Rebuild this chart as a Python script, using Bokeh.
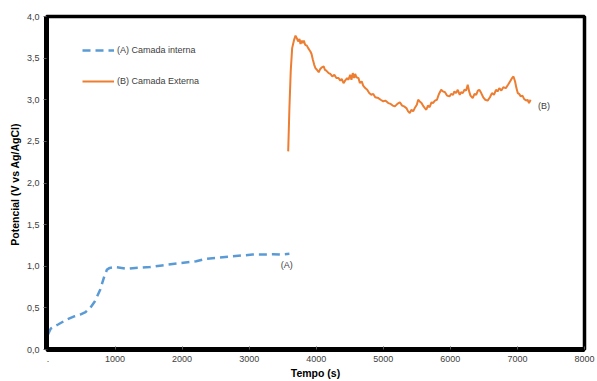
from bokeh.plotting import figure
from bokeh.models import FixedTicker, Legend, LegendItem, Label, Range1d
from bokeh.embed import file_html
from bokeh.resources import INLINE

# Series A: Camada interna
a_t = [0, 40, 150, 280, 400, 480, 560, 630, 700, 780, 840, 880, 920, 1000, 1100, 1180,
       1300, 1520, 1700, 1990, 2210, 2360, 2500, 2750, 3050, 3200, 3350, 3480, 3600]
a_v = [0.18, 0.25, 0.30, 0.36, 0.40, 0.42, 0.45, 0.50, 0.58, 0.72, 0.88, 0.96, 0.98, 0.99,
       0.98, 0.97, 0.98, 0.99, 1.01, 1.04, 1.06, 1.09, 1.10, 1.12, 1.14, 1.14, 1.145, 1.14, 1.15]

# Series B: Camada Externa
b_t = [3582, 3600, 3620, 3641, 3670, 3691, 3710, 3730, 3750, 3765, 3785, 3800, 3815, 3835,
       3860, 3880, 3913, 3930, 3950, 3970, 3988, 4010, 4037, 4060, 4085, 4111, 4130, 4150,
       4185, 4210, 4240, 4270, 4300, 4333, 4360, 4380, 4407, 4430, 4460, 4480, 4506, 4525,
       4545, 4565, 4580, 4600, 4630, 4650, 4678, 4700, 4730, 4760, 4790, 4820, 4850, 4880,
       4926, 4960, 5000, 5030, 5074, 5110, 5140, 5173, 5210, 5247, 5280, 5310, 5344, 5370,
       5395, 5420, 5445, 5469, 5500, 5520, 5543, 5570, 5600, 5620, 5641, 5665, 5690, 5720,
       5741, 5770, 5800, 5830, 5863, 5890, 5920, 5950, 5987, 6010, 6040, 6060, 6085, 6110,
       6140, 6160, 6185, 6210, 6235, 6259, 6280, 6300, 6333, 6360, 6385, 6410, 6432, 6460,
       6490, 6520, 6556, 6590, 6620, 6650, 6680, 6704, 6730, 6760, 6790, 6827, 6860, 6890,
       6920, 6941, 6965, 6985, 7005, 7025, 7050, 7075, 7099, 7130, 7150, 7173, 7196]
b_v = [2.38, 2.90, 3.35, 3.62, 3.72, 3.77, 3.74, 3.70, 3.73, 3.67, 3.71, 3.68, 3.71, 3.66,
       3.65, 3.62, 3.58, 3.55, 3.48, 3.42, 3.38, 3.36, 3.33, 3.37, 3.39, 3.40, 3.36, 3.35,
       3.32, 3.31, 3.28, 3.30, 3.26, 3.26, 3.23, 3.25, 3.20, 3.23, 3.26, 3.24, 3.30, 3.24,
       3.32, 3.26, 3.31, 3.27, 3.26, 3.20, 3.22, 3.17, 3.14, 3.12, 3.08, 3.06, 3.07, 3.03,
       3.02, 3.00, 2.98, 2.99, 2.96, 2.95, 2.93, 2.92, 2.95, 2.97, 2.93, 2.92, 2.90, 2.86,
       2.84, 2.88, 2.86, 2.90, 2.94, 3.00, 2.98, 2.96, 2.92, 2.90, 2.88, 2.93, 2.91, 2.97,
       2.96, 2.99, 3.00, 3.07, 3.12, 3.10, 3.09, 3.05, 3.04, 3.07, 3.06, 3.10, 3.08, 3.12,
       3.06, 3.09, 3.08, 3.12, 3.11, 3.18, 3.10, 3.05, 3.02, 3.07, 3.06, 3.11, 3.12, 3.08,
       3.03, 3.00, 2.99, 3.03, 3.08, 3.06, 3.12, 3.10, 3.14, 3.11, 3.15, 3.14, 3.18, 3.22,
       3.26, 3.28, 3.22, 3.14, 3.08, 3.07, 3.04, 3.05, 3.01, 2.99, 3.00, 2.96, 3.00]

x_ticks = [0, 1000, 2000, 3000, 4000, 5000, 6000, 7000, 8000]
x_tick_labels = [".", "1000", "2000", "3000", "4000", "5000", "6000", "7000", "8000"]
y_ticks = [0.0, 0.5, 1.0, 1.5, 2.0, 2.5, 3.0, 3.5, 4.0]
y_tick_labels = ["0,0", "0,5", "1,0", "1,5", "2,0", "2,5", "3,0", "3,5", "4,0"]

legend_a = "(A) Camada interna"
legend_b = "(B) Camada Externa"
x_title = "Tempo (s)"
y_title = "Potencial  (V vs Ag/AgCl)"

blue = "#5B9BD5"
orange = "#ED7D31"
font = "Liberation Sans"
tick_col = "#404040"

p = figure(width=597, height=381, output_backend="svg", toolbar_location=None,
           x_range=Range1d(-22, 8000), y_range=Range1d(0, 4.0),
           min_border_left=46, min_border_top=16, min_border_right=13, min_border_bottom=31)
p.background_fill_color = "white"
p.border_fill_color = "white"
p.outline_line_color = "black"
p.outline_line_width = 3.5
p.xgrid.visible = False
p.ygrid.visible = False

ra = p.line(a_t, a_v, line_color=blue, line_width=2.5, line_dash="8 5")
rb = p.line(b_t, b_v, line_color=orange, line_width=2)

for ax in (p.xaxis[0], p.yaxis[0]):
    ax.axis_line_color = "black"
    ax.axis_line_width = 5
    ax.minor_tick_line_color = None
    ax.major_tick_line_color = "#595959"
    ax.major_label_text_font = font
    ax.major_label_text_font_size = "9px"
    ax.major_label_text_color = tick_col
    ax.axis_label_text_font = font
    ax.axis_label_text_font_style = "bold"
    ax.axis_label_text_font_size = "10.5px"
    ax.axis_label_text_color = "black"

p.xaxis.ticker = FixedTicker(ticks=x_ticks)
p.xaxis.major_label_overrides = dict(zip(x_ticks, x_tick_labels))
p.xaxis.major_tick_in = 3
p.xaxis.major_tick_out = 0
p.xaxis.major_label_standoff = 6
p.xaxis.axis_label = x_title
p.xaxis.axis_label_standoff = 2

p.yaxis.ticker = FixedTicker(ticks=y_ticks)
p.yaxis.major_label_overrides = dict(zip(y_ticks, y_tick_labels))
p.yaxis.major_tick_in = 0
p.yaxis.major_tick_out = 3
p.yaxis.major_label_standoff = 4
p.yaxis.axis_label = y_title
p.yaxis.axis_label_standoff = 3

legend = Legend(items=[LegendItem(label=legend_a, renderers=[ra]),
                       LegendItem(label=legend_b, renderers=[rb])],
                location=(36, 262), orientation="vertical")
legend.background_fill_alpha = 0
legend.border_line_color = None
legend.padding = 0
legend.margin = 0
legend.spacing = 19
legend.glyph_width = 32
legend.glyph_height = 12
legend.label_height = 12
legend.label_standoff = 3
legend.label_text_font = font
legend.label_text_font_size = "9px"
legend.label_text_color = tick_col
p.add_layout(legend)

p.add_layout(Label(x=3562, y=1.02, text="(A)", text_align="center", text_baseline="middle",
                   text_font=font, text_font_size="9px", text_color=tick_col))
p.add_layout(Label(x=7397, y=2.93, text="(B)", text_align="center", text_baseline="middle",
                   text_font=font, text_font_size="9px", text_color=tick_col))

open("out.html", "w").write(file_html(p, INLINE))
